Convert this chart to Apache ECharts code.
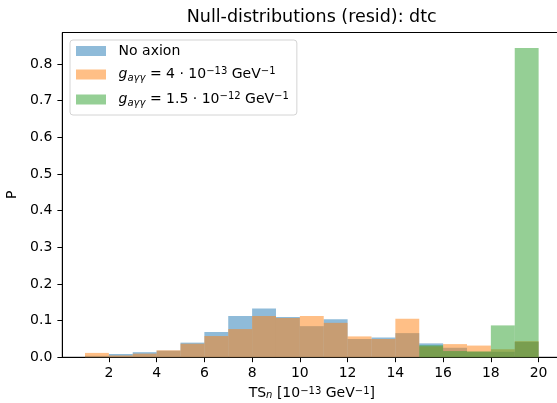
<!DOCTYPE html>
<html>
<head>
<meta charset="utf-8">
<script src="https://cdn.jsdelivr.net/npm/echarts@6/dist/echarts.min.js"></script>
<style>
  html, body { margin: 0; padding: 0; background: #fff; }
  #chart { width: 557px; height: 403px; }
</style>
</head>
<body>
<div id="chart"></div>
<script>
// histogram bins, width 1, from 1 to 20
const binEdges = [1, 2, 3, 4, 5, 6, 7, 8, 9, 10, 11, 12, 13, 14, 15, 16, 17, 18, 19, 20]
const noAxion = [0.004, 0.009, 0.014, 0.018, 0.040, 0.069, 0.113, 0.133, 0.110, 0.085,
  0.104, 0.050, 0.054, 0.066, 0.038, 0.026, 0.015, 0.015, 0.042]
const gLow = [0.012, 0.005, 0.010, 0.019, 0.037, 0.058, 0.077, 0.113, 0.107, 0.113,
  0.094, 0.057, 0.050, 0.105, 0.030, 0.036, 0.032, 0.022, 0.044]
const gHigh = [0, 0, 0, 0, 0, 0, 0, 0, 0, 0,
  0, 0, 0, 0, 0.033, 0.017, 0.016, 0.087, 0.844]
const xTicks = [2, 4, 6, 8, 10, 12, 14, 16, 18, 20]
const yTicks = [0, 0.1, 0.2, 0.3, 0.4, 0.5, 0.6, 0.7, 0.8]

const FONT = 'DejaVu Sans'
const names = ['No axion', 'g_low', 'g_high']
const legendText = {
  'No axion': '{gap| }{b|No axion}',
  'g_low': '{gap| }{i|g}{isub|aγγ}{b| = 4 · 10}{sup|−13}{b| GeV}{sup|−1}',
  'g_high': '{gap| }{i|g}{isub|aγγ}{b| = 1.5 · 10}{sup|−12}{b| GeV}{sup|−1}'
}

function toBins(vals) {
  return vals.map((v, i) => [binEdges[i], binEdges[i + 1], v])
}

function histItem(params, api) {
  const lo = api.coord([api.value(0), 0])
  const hi = api.coord([api.value(1), api.value(2)])
  return {
    type: 'rect',
    shape: { x: lo[0], y: hi[1], width: hi[0] - lo[0], height: lo[1] - hi[1] },
    style: api.style()
  }
}

function histSeries(name, vals, color) {
  return {
    name: name,
    type: 'custom',
    renderItem: histItem,
    data: toBins(vals),
    encode: { x: [0, 1], y: 2 },
    itemStyle: { color: color },
    animation: false
  }
}

const chart = echarts.init(document.getElementById('chart'), null, { renderer: 'canvas' })
chart.setOption({
  backgroundColor: '#fff',
  textStyle: { fontFamily: FONT },
  title: {
    text: 'Null-distributions (resid): dtc',
    left: 311.7,
    top: 7,
    padding: 0,
    textAlign: 'center',
    textStyle: { fontFamily: FONT, fontSize: 17.5, fontWeight: 'normal', color: '#000', lineHeight: 21 }
  },
  grid: {
    left: 62.3, top: 32.5, width: 499, height: 324.8,
    outerBoundsMode: 'none',
    containLabel: false,
    show: true, borderColor: '#000', borderWidth: 1, backgroundColor: 'transparent'
  },
  legend: {
    orient: 'vertical',
    left: 70, top: 40,
    data: names,
    icon: 'rect',
    itemWidth: 30, itemHeight: 10,
    itemGap: 8,
    padding: [4, 8, 7, 6],
    backgroundColor: 'rgba(255,255,255,0.8)',
    borderColor: '#d4d4d4', borderWidth: 1, borderRadius: 3,
    selectedMode: false,
    formatter: name => legendText[name],
    textStyle: {
      fontFamily: FONT, fontSize: 14, color: '#000',
      rich: {
        gap: { width: 7.6, fontSize: 4 },
        b: { fontFamily: FONT, fontSize: 14, lineHeight: 17, color: '#000' },
        i: { fontFamily: FONT, fontSize: 14, lineHeight: 17, fontStyle: 'italic', color: '#000' },
        isub: { fontFamily: FONT, fontSize: 10, lineHeight: 11, fontStyle: 'italic', verticalAlign: 'bottom', color: '#000' },
        sup: { fontFamily: FONT, fontSize: 10, lineHeight: 11, verticalAlign: 'top', color: '#000' }
      }
    }
  },
  xAxis: {
    type: 'value',
    min: 0.05, max: 20.95,
    splitLine: { show: false },
    axisLine: { show: true, onZero: false, lineStyle: { color: '#000', width: 1 } },
    axisTick: { show: true, length: 4.9, customValues: xTicks, lineStyle: { color: '#000', width: 1 } },
    axisLabel: { customValues: xTicks, color: '#000', fontFamily: FONT, fontSize: 14, margin: 8, lineHeight: 16 },
    name: 'TS{sub|n} [10{sup|−13} GeV{sup|−1}]',
    nameLocation: 'middle',
    nameGap: 27,
    nameTextStyle: {
      fontFamily: FONT, fontSize: 14, color: '#000',
      rich: {
        b: { fontSize: 14, lineHeight: 20 },
        sub: { fontSize: 10, lineHeight: 12, fontStyle: 'italic', verticalAlign: 'bottom', color: '#000' },
        sup: { fontSize: 10, lineHeight: 12, verticalAlign: 'top', color: '#000' }
      }
    }
  },
  yAxis: {
    type: 'value',
    min: 0, max: 0.886,
    splitLine: { show: false },
    axisLine: { show: true, lineStyle: { color: '#000', width: 1 } },
    axisTick: { show: true, length: 4.9, customValues: yTicks, lineStyle: { color: '#000', width: 1 } },
    axisLabel: {
      customValues: yTicks, color: '#000', fontFamily: FONT, fontSize: 14, margin: 10,
      formatter: v => v.toFixed(1)
    },
    name: 'P',
    nameLocation: 'middle',
    nameRotate: 90,
    nameGap: 39,
    nameTextStyle: { fontFamily: FONT, fontSize: 14, color: '#000' }
  },
  series: [
    histSeries('No axion', noAxion, 'rgba(31,119,180,0.5)'),
    histSeries('g_low', gLow, 'rgba(255,127,14,0.5)'),
    histSeries('g_high', gHigh, 'rgba(44,160,44,0.5)')
  ]
})
</script>
</body>
</html>
